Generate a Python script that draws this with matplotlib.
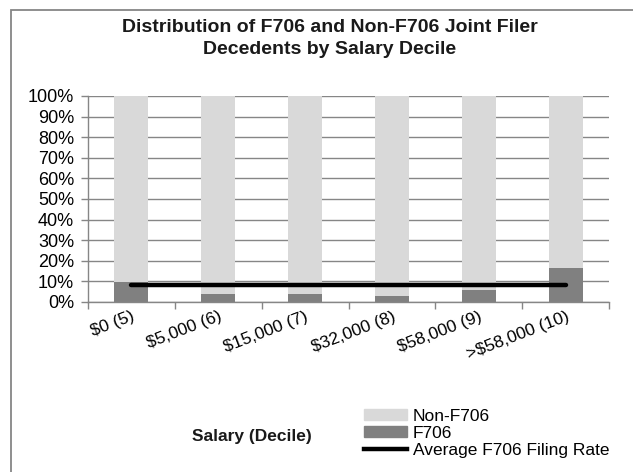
import numpy as np
import matplotlib.pyplot as plt
from matplotlib.patches import Rectangle, Patch
from matplotlib.lines import Line2D

plt.rcParams['font.family'] = ['Liberation Sans', 'DejaVu Sans']

# podaci sa grafika
kategorije = ["$0 (5)", "$5,000 (6)", "$15,000 (7)", "$32,000 (8)", "$58,000 (9)", ">$58,000 (10)"]
f706 = [9.5, 3.8, 4.1, 2.8, 5.7, 16.4]  # %
non_f706 = [100 - v for v in f706]
prosek = 8.2  # % prosecna stopa

x = np.arange(len(kategorije))

fig = plt.figure(figsize=(6.33, 4.72), dpi=100)
ax = fig.add_axes([88/633, 1-302/472, (609-88)/633, (302-96)/472])

ax.bar(x, f706, width=0.39, color="#808080", zorder=2)
ax.bar(x, non_f706, width=0.39, bottom=f706, color="#d9d9d9", zorder=2)
ax.plot(x, [prosek]*len(x), color="k", lw=3.2, solid_capstyle="round", zorder=3)

ax.set_xlim(-0.5, len(x)-0.5)
ax.set_ylim(0, 100)
ax.set_yticks(np.arange(0, 101, 10))
ax.set_yticklabels([f"{v}%" for v in range(0, 101, 10)], fontsize=13)
ax.yaxis.grid(True, color="#868686", lw=1, zorder=1)
ax.set_axisbelow(True)

# oznake kategorija u sredini, crtice na granicama
ax.set_xticks(x)
ax.set_xticklabels(kategorije, rotation=21, ha="right", rotation_mode="anchor", fontsize=12.5)
ax.tick_params(axis="x", which="major", length=0, pad=5)
ax.set_xticks(np.arange(-0.5, len(x), 1), minor=True)
ax.tick_params(axis="x", which="minor", length=5, color="#868686", width=1)
ax.tick_params(axis="y", length=5, color="#868686", width=1, pad=5)

for s in ["top", "right"]:
    ax.spines[s].set_visible(False)
for s in ["left", "bottom"]:
    ax.spines[s].set_color("#868686")
    ax.spines[s].set_linewidth(1)

fig.text(330/633, 1-28/472, "Distribution of F706 and Non-F706 Joint Filer", ha="center", va="center",
         fontsize=14, fontweight="bold", color="#1a1a1a")
fig.text(330/633, 1-50/472, "Decedents by Salary Decile", ha="center", va="center",
         fontsize=14, fontweight="bold", color="#1a1a1a")
fig.text(252/633, 1-436/472, "Salary (Decile)", ha="center", va="center", fontsize=12.5,
         fontweight="bold", color="#1a1a1a")

handles = [Patch(color="#d9d9d9"), Patch(color="#808080"), Line2D([], [], color="k", lw=3.2)]
fig.legend(handles, ["Non-F706", "F706", "Average F706 Filing Rate"], loc="upper left",
           bbox_to_anchor=(364/633, 1-409/472), frameon=False, fontsize=12.5,
           handlelength=2.5, handleheight=0.6, handletextpad=0.3, labelspacing=0.12,
           borderpad=0, borderaxespad=0)

fig.patches.append(Rectangle((11/633, -0.1), 1.1, 1-10/472+0.1, transform=fig.transFigure,
                             fill=False, edgecolor="#868686", lw=1.3))

fig.savefig("out.png", dpi=100)
